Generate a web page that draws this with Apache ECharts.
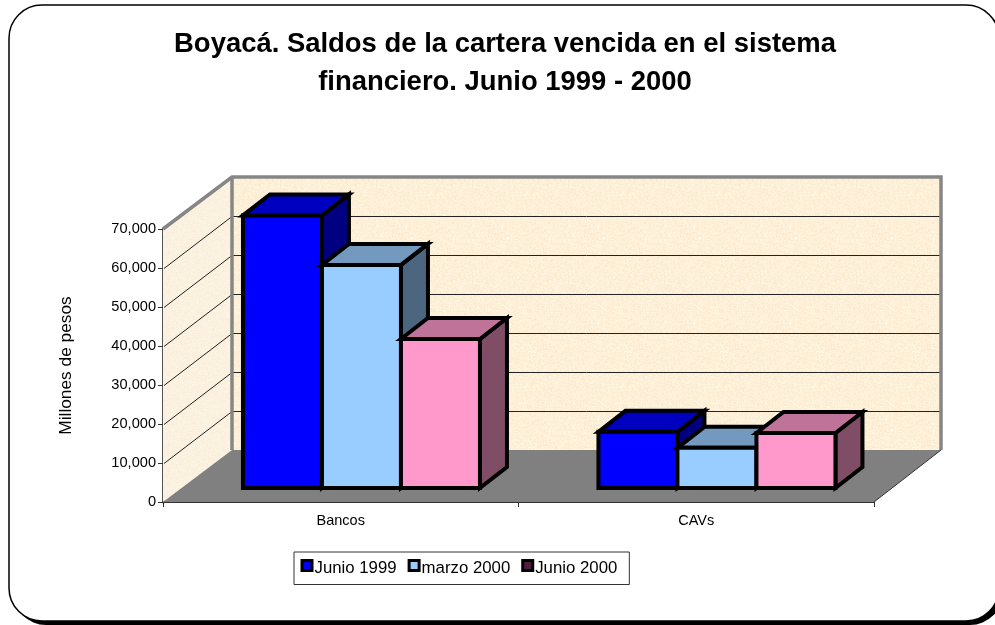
<!DOCTYPE html>
<html>
<head>
<meta charset="utf-8">
<style>html,body{margin:0;padding:0;background:#fff}#c{width:995px;height:625px}</style>
<script src="https://cdn.jsdelivr.net/npm/echarts@6/dist/echarts.min.js"></script>
</head>
<body>
<div id="c"></div>
<script>
const categories = ['Bancos', 'CAVs'];
const seriesNames = ['Junio 1999', 'marzo 2000', 'Junio 2000'];
const junio1999 = [69900, 14400];
const marzo2000 = [57200, 10300];
const junio2000 = [38200, 14100];
const gridTicks = [10000, 20000, 30000, 40000, 50000, 60000, 70000];

const DX = 69, DXR = 67, DY = -52; // floor depth (left and right edges)
const BX = 20.7, BY = -14;         // bar inset from front edge
const BDX = 27, BDY = -21;         // bar depth
const BAR_FRAC = 79 / 355.5;
const faces = [
  { front: '#0000ff', top: '#0000c0', side: '#000080' },
  { front: '#99ccff', top: '#7399bf', side: '#4d6680' },
  { front: '#ff99cc', top: '#bf7399', side: '#804d66' }
];

// Paper-like wall texture: a small tile with fixed speckle from a hash.
function speckle(r, g, b, amp) {
  const size = 96, cv = document.createElement('canvas');
  cv.width = cv.height = size;
  const ctx = cv.getContext('2d'), im = ctx.createImageData(size, size);
  let h = 12345;
  for (let i = 0; i < size * size; i++) {
    h = (h * 1103515245 + 12345) & 0x7fffffff;
    const d = ((h >> 16) % (2 * amp + 1)) - amp;
    im.data[i * 4] = Math.min(255, r + d * 0.5);
    im.data[i * 4 + 1] = Math.min(255, g + d);
    im.data[i * 4 + 2] = Math.min(255, b + d * 1.6);
    im.data[i * 4 + 3] = 255;
  }
  ctx.putImageData(im, 0, 0);
  return { image: cv, repeat: 'repeat' };
}
const backFill = speckle(253, 240, 216, 5);
const sideFill = speckle(251, 241, 223, 3);

function poly(points, fill, stroke, lw) {
  return { type: 'polygon', shape: { points }, style: { fill, stroke: stroke || 'none', lineWidth: lw || 0, lineJoin: 'miter' } };
}
function barRenderer(si) {
  return function (params, api) {
    const cat = api.value(0), v = api.value(1);
    const base = api.coord([cat, 0]), top = api.coord([cat, v]);
    const w = api.size([1, 0])[0] * BAR_FRAC;
    const x0 = base[0] + BX + (si - 1.5) * w;
    const x1 = x0 + w, y0 = base[1] + BY, y1 = top[1] + BY;
    const f = faces[si], lw = 4, k = '#000';
    return { type: 'group', children: [
      poly([[x1, y1], [x1 + BDX, y1 + BDY], [x1 + BDX, y0 + BDY], [x1, y0]], f.side, k, lw),
      poly([[x0, y1], [x0 + BDX, y1 + BDY], [x1 + BDX, y1 + BDY], [x1, y1]], f.top, k, lw),
      poly([[x0, y1], [x1, y1], [x1, y0], [x0, y0]], f.front, k, lw)
    ] };
  };
}
function wallsRenderer(params, api) {
  const cs = params.coordSys;
  const L = cs.x, R = cs.x + cs.width, B = cs.y + cs.height, T = cs.y;
  const ch = [
    poly([[L + DX, T + DY], [R + DXR, T + DY], [R + DXR, B + DY], [L + DX, B + DY]], backFill),
    poly([[L, T], [L + DX, T + DY], [L + DX, B + DY], [L, B]], sideFill),
    poly([[L, B], [L + DX, B + DY], [R + DXR, B + DY], [R, B]], '#808080')
  ];
  const line = (a, b) => ({ type: 'line', shape: { x1: a[0], y1: a[1], x2: b[0], y2: b[1] }, style: { stroke: '#222', lineWidth: 1 } });
  gridTicks.forEach(t => {
    const y = Math.round(api.coord([0, t])[1]) + 0.5;
    ch.push(line([L + 1, y], [L + DX, y + DY]));
    ch.push(line([L + DX, y + DY], [R + DXR, y + DY]));
  });
  const edge = (pts) => ({ type: 'polyline', shape: { points: pts }, style: { fill: 'none', stroke: '#868686', lineWidth: 3.5, lineJoin: 'miter' } });
  ch.push(edge([[L, T], [L + DX, T + DY], [R + DXR, T + DY], [R + DXR, B + DY]]));
  ch.push(edge([[L + DX, T + DY], [L + DX, B + DY]]));
  ch.push({ type: 'line', shape: { x1: R, y1: B, x2: R + DXR, y2: B + DY }, style: { stroke: '#333', lineWidth: 1 } });
  return { type: 'group', children: ch };
}

const chart = echarts.init(document.getElementById('c'), null, { renderer: 'canvas' });
const font = 'Liberation Sans';
const values = [junio1999, marzo2000, junio2000];
chart.setOption({
  animation: false,
  backgroundColor: '#fff',
  graphic: [
    { type: 'rect', z: -10, shape: { x: 13, y: 9, width: 990, height: 616, r: 33 }, style: { fill: '#000' } },
    { type: 'rect', z: -9, shape: { x: 9, y: 5, width: 990, height: 616, r: 33 }, style: { fill: '#fff', stroke: '#000', lineWidth: 1.5 } }
  ],
  title: {
    text: 'Boyacá. Saldos de la cartera vencida en el sistema\nfinanciero. Junio 1999 - 2000',
    left: 500, top: 20, textAlign: 'center',
    textStyle: { fontFamily: font, fontSize: 27.45, fontWeight: 'bold', color: '#000', lineHeight: 38 }
  },
  legend: {
    left: 294, top: 552, padding: [7, 12, 8, 6.5],
    orient: 'horizontal', selectedMode: false, itemGap: 11, itemWidth: 10, itemHeight: 10,
    borderColor: '#333', borderWidth: 1, backgroundColor: '#fff',
    formatter: '{t|{name}}',
    textStyle: {
      fontFamily: font, fontSize: 16.8, color: '#000', padding: [0, 0, 0, -2.5],
      rich: { t: { fontFamily: font, fontSize: 16.8, color: '#000', padding: [5, 0, 0, 0] } }
    },
    data: [
      { name: seriesNames[0], icon: 'rect', itemStyle: { color: '#0000ff', borderColor: '#000', borderWidth: 3 } },
      { name: seriesNames[1], icon: 'rect', itemStyle: { color: '#99ccff', borderColor: '#000', borderWidth: 3 } },
      { name: seriesNames[2], icon: 'rect', itemStyle: { color: '#4f1f3d', borderColor: '#000', borderWidth: 3 } }
    ]
  },
  grid: { left: 163, right: 121, top: 229, bottom: 123, containLabel: false },
  xAxis: {
    type: 'category', data: categories, boundaryGap: true,
    axisLine: { show: true, lineStyle: { color: '#333', width: 2 } },
    axisTick: { show: true, alignWithLabel: false, length: 5, lineStyle: { color: '#333', width: 1 } },
    axisLabel: { fontFamily: font, fontSize: 14.5, color: '#000', margin: 11 }
  },
  yAxis: {
    type: 'value', min: 0, max: 70000, interval: 10000,
    name: 'Millones de pesos', nameLocation: 'middle', nameGap: 88, nameRotate: 90,
    nameTextStyle: { fontFamily: font, fontSize: 17.3, color: '#000' },
    axisLine: { show: true, lineStyle: { color: '#555', width: 3 } },
    axisTick: { show: true, length: 5, lineStyle: { color: '#333', width: 1 } },
    axisLabel: { fontFamily: font, fontSize: 14.6, color: '#000', margin: 7 },
    splitLine: { show: false }
  },
  series: [
    { type: 'custom', name: 'walls', renderItem: wallsRenderer, data: [[0, 0]], z: 1, silent: true, clip: false, encode: { x: 0, y: 1 } }
  ].concat(values.map((vals, si) => ({
    type: 'custom', name: seriesNames[si], z: 2 + si, silent: true, clip: false,
    itemStyle: { color: faces[si].front },
    renderItem: barRenderer(si), encode: { x: 0, y: 1 },
    data: vals.map((v, i) => [i, v])
  })))
});
</script>
</body>
</html>
